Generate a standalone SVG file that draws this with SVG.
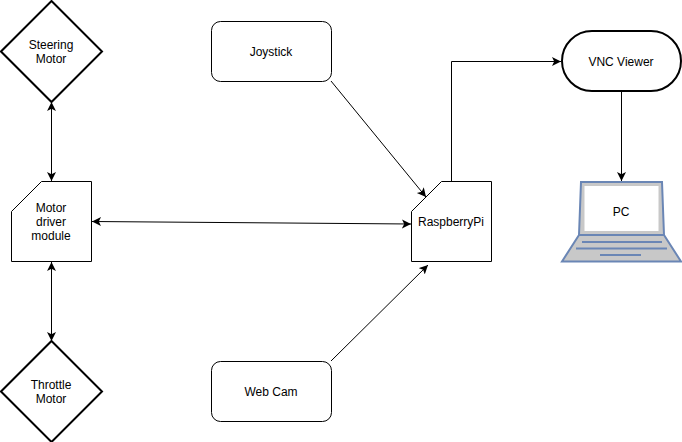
<svg xmlns="http://www.w3.org/2000/svg" width="682" height="442" viewBox="0 0 682 442">
<style>
text{font-family:"Liberation Sans",Arial,sans-serif;font-size:12px;fill:#000;text-anchor:middle}
.s{fill:#fff;stroke:#000;stroke-width:1}
.d{fill:#fff;stroke:#000;stroke-width:2}
.c{fill:none;stroke:#000;stroke-width:1;marker-end:url(#a)}
.b{marker-start:url(#as)}
.l{fill:none;stroke:#6a86b5;stroke-width:2}
</style>
<defs>
<marker id="a" markerUnits="userSpaceOnUse" markerWidth="12" markerHeight="12" refX="9" refY="4.500" orient="auto"><path d="M0 0L9 4.500L0 9L2.200 4.500Z" fill="#000"/></marker>
<marker id="as" markerUnits="userSpaceOnUse" markerWidth="12" markerHeight="12" refX="0" refY="4.500" orient="auto"><path d="M9 0L0 4.500L9 9L6.800 4.500Z" fill="#000"/></marker>
</defs>
<rect width="682" height="442" fill="#fff"/>
<g id="connectors">
<path class="c b" d="M51.500 102V181"/>
<path class="c b" d="M51.500 262V341"/>
<path class="c b" d="M92 221.500L411 224"/>
<path class="c" d="M331 81L426 197"/>
<path class="c" d="M331 361L428 265"/>
<path class="c" d="M451.500 181V61.500H561"/>
<path class="c" d="M621.500 92V181"/>
</g>
<g id="steering-motor"><path class="d" d="M51.500 1L102 51.500L51.500 102L1 51.500Z"/><text x="51" y="49">Steering</text><text x="51" y="63">Motor</text></g>
<g id="throttle-motor"><path class="d" d="M51.500 341L102 391.500L51.500 442L1 391.500Z"/><text x="51" y="389">Throttle</text><text x="51" y="403">Motor</text></g>
<g id="motor-driver"><path class="s" d="M41.500 181.500H91.500V261.500H11.500V211.500Z"/><text x="51" y="212">Motor</text><text x="51" y="226">driver</text><text x="51" y="240">module</text></g>
<g id="raspberrypi"><path class="s" d="M441.500 181.500H491.500V261.500H411.500V211.500Z"/><text x="451" y="226">RaspberryPi</text></g>
<g id="joystick"><rect class="s" x="211.500" y="21.500" width="120" height="60" rx="9"/><text x="271" y="56">Joystick</text></g>
<g id="webcam"><rect class="s" x="211.500" y="361.500" width="120" height="60" rx="9"/><text x="271" y="396">Web Cam</text></g>
<g id="vnc"><rect class="d" x="562" y="31" width="119" height="60" rx="30"/><text x="621" y="66">VNC Viewer</text></g>
<g id="pc">
<path d="M581 182H662L664 235L681 261.500H562L579 235Z" fill="#c8c8c8"/>
<rect x="584.500" y="186" width="74" height="45" fill="#fff"/>
<path class="l" d="M581 182H662L664 235H579ZM579 235L562 261.500H681L664 235"/>
<path d="M582 242H662M576 248.500H667M600 255H641" fill="none" stroke="#6a86b5" stroke-width="2"/>
<text x="621" y="216">PC</text>
</g>
</svg>
